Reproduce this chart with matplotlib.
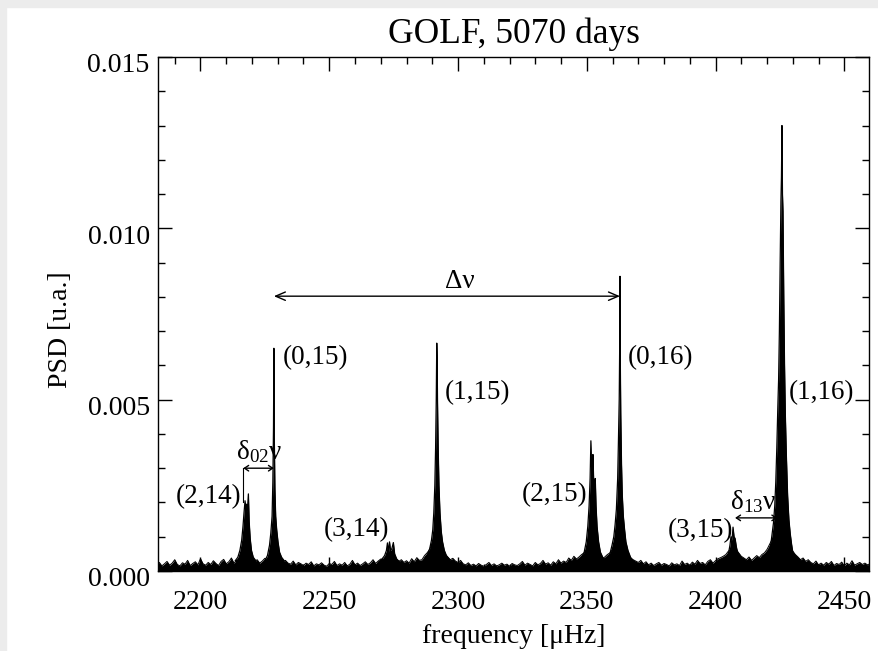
import numpy as np
import matplotlib
matplotlib.use("Agg")
from matplotlib import pyplot as plt
from matplotlib.patches import Rectangle
from matplotlib.ticker import MultipleLocator, FormatStrFormatter
import matplotlib.transforms as mtransforms

plt.rcParams['font.family'] = ['Liberation Serif', 'DejaVu Serif']
plt.rcParams['mathtext.fontset'] = 'custom'
plt.rcParams['mathtext.rm'] = 'Liberation Serif'
plt.rcParams['mathtext.it'] = 'Liberation Serif'

# noise floor, 1 uHz steps from 2183 to 2460, PSD in units of 1e-3
noise_start = 2183
noise_psd = [
    0.18, 0.25, 0.15, 0.21, 0.28, 0.17, 0.23, 0.33, 0.19, 0.15, 0.24, 0.20, 0.31, 0.16, 0.22, 0.27, 0.18, 0.36, 0.21, 0.17,
    0.25, 0.19, 0.30, 0.22, 0.16, 0.28, 0.34, 0.21, 0.27, 0.38, 0.23, 0.31, 0.25, 0.33, 0.38, 0.43, 0.33, 0.29, 0.27, 0.33,
    0.23, 0.29, 0.37, 0.33, 0.41, 0.48, 0.43, 0.39, 0.33, 0.27, 0.31, 0.23, 0.20, 0.29, 0.18, 0.25, 0.21, 0.16, 0.23, 0.19,
    0.27, 0.15, 0.21, 0.18, 0.24, 0.17, 0.14, 0.22, 0.19, 0.28, 0.16, 0.21, 0.17, 0.25, 0.15, 0.20, 0.31, 0.18, 0.23, 0.16,
    0.21, 0.27, 0.19, 0.24, 0.33, 0.22, 0.29, 0.35, 0.33, 0.38, 0.43, 0.38, 0.33, 0.35, 0.28, 0.33, 0.25, 0.30, 0.23, 0.36,
    0.27, 0.39, 0.31, 0.33, 0.45, 0.53, 0.63, 0.83, 0.93, 0.93, 0.73, 0.58, 0.48, 0.41, 0.33, 0.37, 0.29, 0.25, 0.31, 0.21,
    0.18, 0.24, 0.16, 0.20, 0.15, 0.22, 0.17, 0.14, 0.19, 0.25, 0.16, 0.21, 0.15, 0.18, 0.23, 0.17, 0.20, 0.14, 0.22, 0.18,
    0.16, 0.21, 0.28, 0.17, 0.23, 0.19, 0.15, 0.25, 0.18, 0.22, 0.31, 0.20, 0.24, 0.17, 0.27, 0.21, 0.33, 0.23, 0.29, 0.25,
    0.38, 0.31, 0.43, 0.35, 0.41, 0.48, 0.53, 0.63, 0.73, 0.63, 0.53, 0.48, 0.43, 0.35, 0.41, 0.48, 0.53, 0.63, 0.83, 0.93,
    0.83, 0.63, 0.53, 0.45, 0.38, 0.33, 0.29, 0.25, 0.31, 0.21, 0.27, 0.18, 0.23, 0.16, 0.21, 0.25, 0.17, 0.22, 0.19, 0.15,
    0.24, 0.18, 0.21, 0.16, 0.29, 0.19, 0.23, 0.17, 0.26, 0.20, 0.31, 0.22, 0.25, 0.18, 0.28, 0.33, 0.23, 0.30, 0.36, 0.39,
    0.43, 0.48, 0.58, 0.63, 0.68, 0.63, 0.53, 0.43, 0.38, 0.33, 0.41, 0.31, 0.38, 0.45, 0.39, 0.48, 0.53, 0.63, 0.78, 0.93,
    1.03, 1.13, 1.13, 1.13, 1.03, 0.93, 0.73, 0.58, 0.48, 0.41, 0.33, 0.38, 0.28, 0.33, 0.25, 0.21, 0.29, 0.18, 0.23, 0.17,
    0.25, 0.20, 0.28, 0.16, 0.22, 0.19, 0.26, 0.15, 0.23, 0.18, 0.30, 0.17, 0.21, 0.25, 0.19, 0.23, 0.18, 0.21,
]

# mode peaks (frequency in uHz, PSD in units of 1e-3)
p214_f = [2213.5, 2214.5, 2215.3, 2216.0, 2216.5, 2216.9, 2217.3, 2217.6, 2217.9, 2218.2, 2218.6, 2218.9, 2219.3, 2219.8, 2220.5, 2221.5]
p214_p = [0.3, 0.4, 0.6, 0.9, 1.3, 1.7, 2.05, 1.85, 1.95, 1.75, 2.25, 1.45, 0.95, 0.6, 0.4, 0.3]

p015_f = [2225.0, 2226.0, 2226.8, 2227.3, 2227.8, 2228.1, 2228.35, 2228.5, 2228.65, 2228.9, 2229.2, 2229.6, 2230.1, 2230.7, 2231.5, 2232.5]
p015_p = [0.3, 0.45, 0.75, 1.1, 1.6, 2.6, 4.2, 6.5, 4.0, 2.4, 1.6, 1.2, 0.85, 0.55, 0.4, 0.3]

p314_f = [2269.0, 2270.5, 2271.5, 2272.2, 2272.6, 2273.0, 2273.4, 2273.8, 2274.3, 2274.9, 2275.4, 2276.2, 2277.5]
p314_p = [0.25, 0.35, 0.45, 0.6, 0.82, 0.55, 0.85, 0.6, 0.65, 0.83, 0.5, 0.35, 0.25]

p115_f = [2287.0, 2288.0, 2289.0, 2289.7, 2290.2, 2290.6, 2291.0, 2291.3, 2291.55, 2291.75, 2291.9, 2292.05, 2292.3, 2292.6, 2293.0, 2293.5, 2294.0, 2294.7, 2295.5, 2296.5]
p115_p = [0.35, 0.45, 0.65, 0.9, 1.2, 1.7, 2.5, 3.6, 5.0, 6.65, 6.2, 4.9, 3.6, 2.5, 1.7, 1.15, 0.85, 0.6, 0.45, 0.35]

p215_f = [2347.0, 2348.0, 2349.0, 2349.8, 2350.4, 2350.9, 2351.3, 2351.6, 2351.9, 2352.2, 2352.4, 2352.7, 2353.0, 2353.3, 2353.6, 2354.0, 2354.6, 2355.3, 2356.2, 2357.5]
p215_p = [0.3, 0.4, 0.55, 0.85, 1.3, 1.9, 2.7, 3.8, 3.0, 2.7, 3.4, 2.6, 2.4, 2.7, 1.9, 1.3, 0.85, 0.55, 0.4, 0.3]

p016_f = [2358.0, 2359.0, 2359.8, 2360.5, 2361.0, 2361.5, 2362.0, 2362.3, 2362.6, 2362.8, 2362.9, 2363.0, 2363.2, 2363.5, 2363.8, 2364.2, 2364.7, 2365.2, 2366.0, 2367.0, 2368.0]
p016_p = [0.35, 0.5, 0.75, 1.0, 1.35, 1.8, 2.7, 3.8, 5.0, 6.7, 8.6, 6.4, 4.6, 3.1, 2.2, 1.6, 1.2, 0.85, 0.6, 0.4, 0.3]

p315_f = [2403.0, 2404.0, 2405.0, 2405.6, 2406.0, 2406.4, 2406.8, 2407.2, 2407.6, 2408.1, 2408.7, 2409.5, 2410.5, 2412.0]
p315_p = [0.25, 0.35, 0.5, 0.75, 1.0, 0.9, 1.28, 1.0, 0.95, 0.7, 0.5, 0.35, 0.3, 0.25]

p116_f = [2419.0, 2420.0, 2421.0, 2421.5, 2422.0, 2422.5, 2423.0, 2423.4, 2423.8, 2424.2, 2424.5, 2424.8, 2425.1, 2425.4, 2425.6, 2425.8, 2426.0, 2426.2, 2426.5, 2426.8, 2427.1, 2427.5, 2428.0, 2428.5, 2429.0, 2429.5, 2430.0, 2431.0, 2432.0]
p116_p = [0.3, 0.45, 0.6, 0.8, 1.1, 1.4, 1.9, 2.6, 3.6, 4.8, 5.6, 7.0, 9.0, 10.8, 11.5, 13.0, 11.0, 10.5, 8.0, 6.0, 4.6, 3.4, 2.2, 1.5, 1.1, 0.8, 0.55, 0.35, 0.25]

peaks = [(p214_f, p214_p), (p015_f, p015_p), (p314_f, p314_p), (p115_f, p115_p),
         (p215_f, p215_p), (p016_f, p016_p), (p315_f, p315_p), (p116_f, p116_p)]

mode_labels = ['(2,14)', '(0,15)', '(3,14)', '(1,15)', '(2,15)', '(0,16)', '(3,15)', '(1,16)']
label_x = [2215.8, 2232.0, 2260.4, 2295.0, 2350.2, 2366.0, 2406.9, 2428.3]
label_y = [2.18, 6.22, 1.20, 5.22, 2.22, 6.22, 1.18, 5.20]
label_ha = ['right', 'left', 'center', 'left', 'right', 'left', 'right', 'left']

fig = plt.figure(figsize=(8.79, 6.51), dpi=100)
fig.patch.set_facecolor('white')
fig.patches.append(Rectangle((0, 0), 6 / 879, 1, transform=fig.transFigure, color='#ececec', zorder=0))
fig.patches.append(Rectangle((0, 1 - 7 / 651), 1, 7 / 651, transform=fig.transFigure, color='#ececec', zorder=0))

ax = fig.add_axes([158 / 879, 1 - 571 / 651, (869 - 158) / 879, (571 - 57) / 651])

nf = noise_start + np.arange(len(noise_psd))
npsd = np.array(noise_psd) * 1e-3
ax.fill_between(nf, 0, npsd, color='black', lw=0)
ax.plot(nf, npsd, color='black', lw=0.7)

for f, p in peaks:
    p = np.array(p) * 1e-3
    ax.fill_between(f, 0, p, color='black', lw=0)
    ax.plot(f, p, color='black', lw=0.9)

for txt, x, y, ha in zip(mode_labels, label_x, label_y, label_ha):
    ax.text(x, y * 1e-3, txt, ha=ha, va='center', fontsize=19.5)

# large separation
ax.annotate('', xy=(2228.5, 0.00802), xytext=(2362.9, 0.00802),
            arrowprops=dict(arrowstyle='<->,head_length=0.7,head_width=0.3', lw=1, color='black',
                            shrinkA=0, shrinkB=0))
ax.text(2300.8, 0.00846, 'Δν', ha='center', va='center', fontsize=19.5)

# small separations
ax.plot([2216.6, 2216.6], [0.0020, 0.0030], color='black', lw=0.8)
ax.annotate('', xy=(2216.6, 0.0030), xytext=(2228.5, 0.0030),
            arrowprops=dict(arrowstyle='<->,head_length=0.3,head_width=0.2', lw=1, color='black',
                            shrinkA=0, shrinkB=0))
ax.text(2222.8, 0.00309, 'δ$_{02}$ν', ha='center', va='bottom', fontsize=19.5)

ax.annotate('', xy=(2407.6, 0.00155), xytext=(2424.0, 0.00155),
            arrowprops=dict(arrowstyle='<->,head_length=0.3,head_width=0.2', lw=1, color='black',
                            shrinkA=0, shrinkB=0))
ax.text(2414.6, 0.00163, 'δ$_{13}$ν', ha='center', va='bottom', fontsize=19.5)

ax.set_xlim(2183.5, 2459.6)
ax.set_ylim(0, 0.015)
ax.xaxis.set_major_locator(MultipleLocator(50))
ax.xaxis.set_minor_locator(MultipleLocator(10))
ax.yaxis.set_major_locator(MultipleLocator(0.005))
ax.yaxis.set_minor_locator(MultipleLocator(0.001))
ax.yaxis.set_major_formatter(FormatStrFormatter('%.3f'))
ax.tick_params(which='both', direction='in', top=True, right=True, labelsize=20, width=1)
ax.tick_params(which='major', length=10)
ax.tick_params(which='minor', length=5)
ax.tick_params(axis='x', pad=14)
ax.tick_params(axis='y', pad=6)
for s in ax.spines.values():
    s.set_linewidth(1)

offset = mtransforms.ScaledTranslation(0, -6 / 100, fig.dpi_scale_trans)
for lab in ax.get_yticklabels():
    lab.set_transform(lab.get_transform() + offset)

ax.set_xlabel('frequency [μHz]', fontsize=20, labelpad=6)
ax.set_ylabel('PSD [u.a.]', fontsize=20)
ax.yaxis.set_label_coords(-0.12, 0.47)
ax.set_title('GOLF, 5070 days', fontsize=25.5, pad=10)

fig.savefig('out.png', dpi=100)
